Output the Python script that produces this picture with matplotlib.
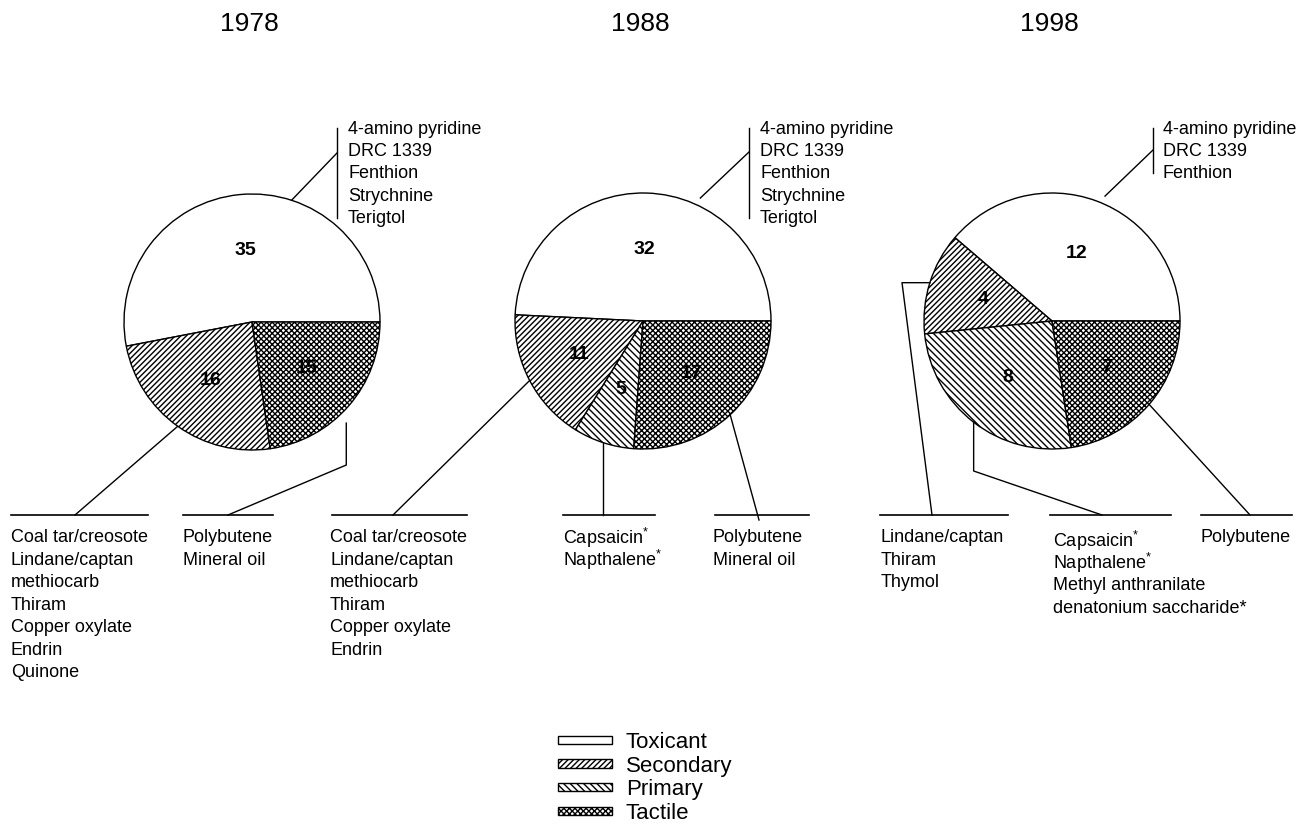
import numpy as np
import matplotlib.pyplot as plt

plt.rcParams['font.family'] = ['Liberation Sans', 'DejaVu Sans']
plt.rcParams['mathtext.fontset'] = 'custom'
plt.rcParams['mathtext.rm'] = 'Liberation Sans'
plt.rcParams['mathtext.it'] = 'Liberation Sans'
plt.rcParams['hatch.linewidth'] = 1.0
plt.rcParams['hatch.color'] = 'black'

# data
years = ['1978', '1988', '1998']
categories = ['Toxicant', 'Secondary', 'Primary', 'Tactile']
counts_1978 = [35, 16, 0, 15]
counts_1988 = [32, 11, 5, 17]
counts_1998 = [12, 4, 8, 7]

toxicant_1978 = ['4-amino pyridine', 'DRC 1339', 'Fenthion', 'Strychnine', 'Terigtol']
secondary_1978 = ['Coal tar/creosote', 'Lindane/captan', 'methiocarb', 'Thiram',
                  'Copper oxylate', 'Endrin', 'Quinone']
tactile_1978 = ['Polybutene', 'Mineral oil']

toxicant_1988 = ['4-amino pyridine', 'DRC 1339', 'Fenthion', 'Strychnine', 'Terigtol']
secondary_1988 = ['Coal tar/creosote', 'Lindane/captan', 'methiocarb', 'Thiram',
                  'Copper oxylate', 'Endrin']
primary_1988 = ['Capsaicin$^{*}$', 'Napthalene$^{*}$']
tactile_1988 = ['Polybutene', 'Mineral oil']

toxicant_1998 = ['4-amino pyridine', 'DRC 1339', 'Fenthion']
secondary_1998 = ['Lindane/captan', 'Thiram', 'Thymol']
primary_1998 = ['Capsaicin$^{*}$', 'Napthalene$^{*}$', 'Methyl anthranilate',
                'denatonium saccharide*']
tactile_1998 = ['Polybutene']

# layout (pixels, y measured from the top)
W, H = 1308, 830
R = 128
centers = [(252, 322), (643, 321), (1052, 321)]
hatches = {'Toxicant': '', 'Secondary': '//////', 'Primary': '\\\\\\\\\\', 'Tactile': 'xxxxxx'}
LINE = 22.4
BOTTOM = 515

leaders_1978 = {
    'Toxicant': dict(angle=72, path=[(337, 153)], bracket=337, tx=348),
    'Secondary': dict(path=[(75, BOTTOM)], hline=(11, 148), tx=11),
    'Tactile': dict(angle=313, rf=1.08, path=[('v', 465), (228, BOTTOM)], hline=(183, 273), tx=183),
}
leaders_1988 = {
    'Toxicant': dict(angle=65, rf=1.06, path=[(749, 152)], bracket=749, tx=760),
    'Secondary': dict(path=[(393, BOTTOM)], hline=(332, 467), tx=330),
    'Primary': dict(path=[('v', BOTTOM)], hline=(563, 655), tx=563),
    'Tactile': dict(path=[(759, 520)], hline=(715, 809), tx=713),
}
leaders_1998 = {
    'Toxicant': dict(angle=67, rf=1.06, path=[(1153, 150)], bracket=1153, tx=1163),
    'Secondary': dict(path=[('h', 902), (932, BOTTOM)], hline=(880, 1008), tx=881),
    'Primary': dict(path=[('v', 471), (1102, BOTTOM)], hline=(1050, 1171), tx=1053, ty=541),
    'Tactile': dict(path=[(1250, BOTTOM)], hline=(1201, 1292), tx=1200),
}

pies = [
    (counts_1978, {'Toxicant': toxicant_1978, 'Secondary': secondary_1978, 'Tactile': tactile_1978}, leaders_1978),
    (counts_1988, {'Toxicant': toxicant_1988, 'Secondary': secondary_1988, 'Primary': primary_1988,
                   'Tactile': tactile_1988}, leaders_1988),
    (counts_1998, {'Toxicant': toxicant_1998, 'Secondary': secondary_1998, 'Primary': primary_1998,
                   'Tactile': tactile_1998}, leaders_1998),
]

fig = plt.figure(figsize=(W / 100, H / 100), dpi=100)
ax = fig.add_axes([0, 0, 1, 1])

txt = dict(fontsize=13, color='black', va='center', ha='left')

def draw_leader(wedge, cx, cy, spec, lines):
    ang = np.radians(spec.get('angle', (wedge.theta1 + wedge.theta2) / 2))
    rf = spec.get('rf', 1.0)
    xs = [cx + R * rf * np.cos(ang)]
    ys = [cy - R * rf * np.sin(ang)]
    for p in spec['path']:
        if p[0] == 'v':
            xs.append(xs[-1]); ys.append(p[1])
        elif p[0] == 'h':
            xs.append(p[1]); ys.append(ys[-1])
        else:
            xs.append(p[0]); ys.append(p[1])
    ax.plot(xs, [H - y for y in ys], color='black', lw=1.0)
    if 'bracket' in spec:
        y0 = 129
        ax.plot([spec['bracket']] * 2, [H - (y0 - 1), H - (y0 + (len(lines) - 1) * LINE - 1)],
                color='black', lw=1.0)
    else:
        y0 = spec.get('ty', 538)
        x0, x1 = spec['hline']
        ax.plot([x0, x1], [H - BOTTOM, H - BOTTOM], color='black', lw=1.2)
    for i, s in enumerate(lines):
        ax.text(spec['tx'], H - (y0 + i * LINE), s, **txt)

legend_wedges = None
for year, (cx, cy), (counts, names, leaders) in zip(years, centers, pies):
    keep = [i for i, c in enumerate(counts) if c > 0]
    vals = [counts[i] for i in keep]
    total = sum(vals)
    wedges, _, autotexts = ax.pie(
        vals, center=(cx, H - cy), radius=R, startangle=0, counterclock=True,
        colors=['white'] * len(vals),
        wedgeprops=dict(edgecolor='black', linewidth=1.0),
        autopct=lambda p, t=total: f'{p * t / 100:.0f}', pctdistance=0.56,
        textprops=dict(fontsize=14, fontweight='bold', color='black'))
    for w, i in zip(wedges, keep):
        w.set_hatch(hatches[categories[i]])
    for w, i in zip(wedges, keep):
        cat = categories[i]
        draw_leader(w, cx, cy, leaders[cat], names[cat])
    ax.text(cx - 3, H - 24, year, fontsize=19, ha='center', va='center')
    if len(keep) == len(categories):
        legend_wedges = wedges

ax.set_xlim(0, W)
ax.set_ylim(0, H)
ax.set_aspect('auto')
ax.set_axis_off()

fig.legend(legend_wedges, categories, loc='upper left',
           bbox_to_anchor=(558 / W, 1 - 732 / H), frameon=False,
           fontsize=16, handlelength=2.45, handleheight=0.2,
           handletextpad=0.6, labelspacing=0.12, borderpad=0, borderaxespad=0)

fig.savefig('out.png', dpi=100)
